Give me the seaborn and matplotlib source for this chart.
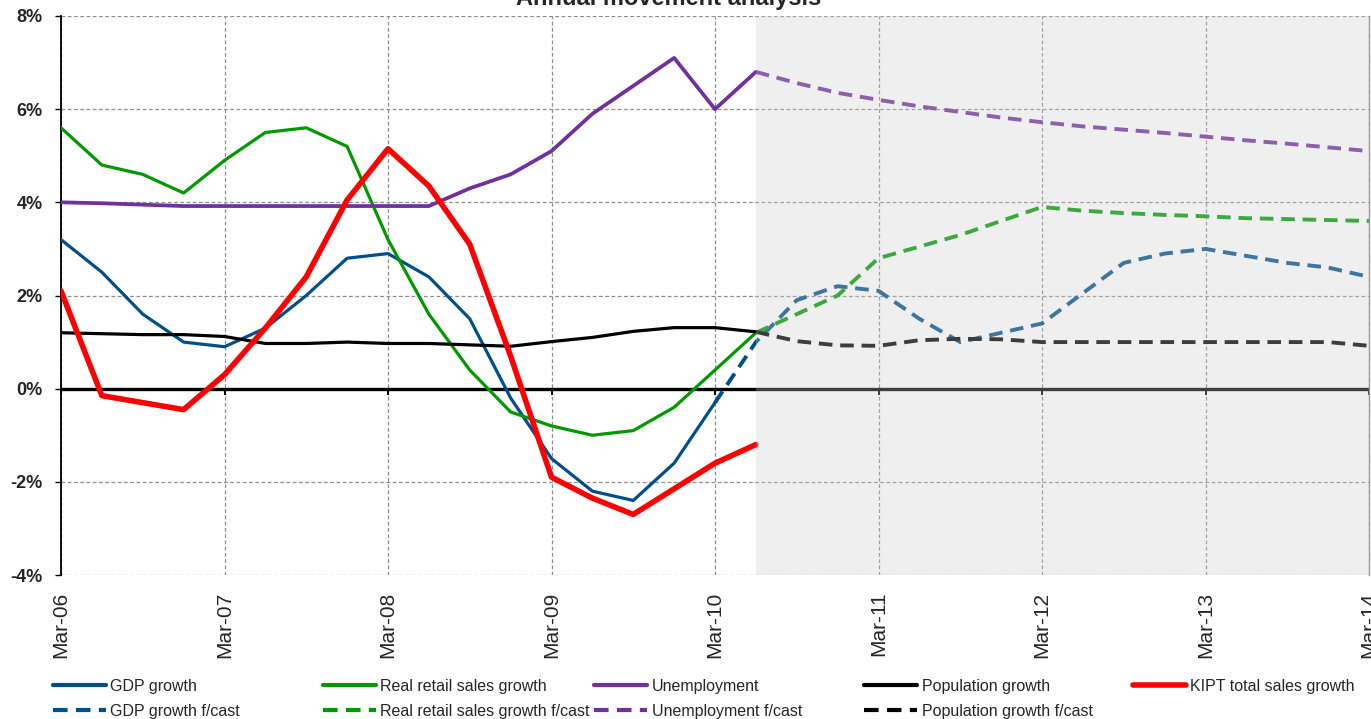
import numpy as np
import pandas as pd
import matplotlib
matplotlib.use("Agg")
import matplotlib.pyplot as plt
from matplotlib.lines import Line2D
import seaborn as sns

# Quarterly axis: Mar-06 (0) ... Mar-14 (32); forecasts start at Jun-10 (17)
year_labels = ["Mar-06", "Mar-07", "Mar-08", "Mar-09", "Mar-10",
               "Mar-11", "Mar-12", "Mar-13", "Mar-14"]
forecast_start = 17

# Annual growth rates, %
gdp = [3.2, 2.5, 1.6, 1.0, 0.9, 1.3, 2.0, 2.8, 2.9, 2.4, 1.5, -0.2,
       -1.5, -2.2, -2.4, -1.6, -0.3]
gdp_fc = [-0.3, 1.0, 1.9, 2.2, 2.1, 1.5, 1.0, 1.2, 1.4, 2.05, 2.7, 2.9,
          3.0, 2.85, 2.7, 2.6, 2.4]
retail = [5.6, 4.8, 4.6, 4.2, 4.9, 5.5, 5.6, 5.2, 3.2, 1.6, 0.4, -0.5,
          -0.8, -1.0, -0.9, -0.4, 0.4, 1.2]
retail_fc = [1.2, 1.6, 2.0, 2.8, 3.05, 3.3, 3.6, 3.9, 3.82, 3.77, 3.73,
             3.7, 3.66, 3.64, 3.62, 3.6]
unemp = [4.0, 3.98, 3.95, 3.92, 3.92, 3.92, 3.92, 3.92, 3.92, 3.92, 4.3,
         4.6, 5.1, 5.9, 6.5, 7.1, 6.0, 6.8]
unemp_fc = [6.8, 6.56, 6.35, 6.2, 6.06, 5.94, 5.82, 5.72, 5.63, 5.56, 5.49,
            5.41, 5.33, 5.26, 5.18, 5.1]
pop = [1.2, 1.18, 1.16, 1.16, 1.12, 0.97, 0.97, 1.0, 0.97, 0.97, 0.94,
       0.91, 1.01, 1.1, 1.23, 1.31, 1.31, 1.22]
pop_fc = [1.22, 1.02, 0.93, 0.92, 1.04, 1.07, 1.06, 1.0, 1.0, 1.0, 1.0,
          1.0, 1.0, 1.0, 1.0, 0.92]
kipt = [2.1, -0.15, -0.3, -0.45, 0.3, 1.3, 2.4, 4.05, 5.15, 4.35, 3.1,
        0.7, -1.9, -2.35, -2.7, -2.15, -1.6, -1.2]

C_GDP = "#004f8b"
C_RET = "#009900"
C_UNE = "#7030a0"
C_POP = "#000000"
C_KIP = "#ff0000"
DASH = (0, (3.5, 2.0))


def frame(values, start=0):
    return pd.DataFrame({"quarter": np.arange(start, start + len(values)),
                         "growth": values})


sns.set_theme(style="white")
plt.rcParams["font.family"] = ["Liberation Sans", "DejaVu Sans"]

W, H = 1371, 719
fig = plt.figure(figsize=(W / 100, H / 100), dpi=100)
ax = fig.add_axes([61 / W, 1 - 575 / H, (1369 - 61) / W, (575 - 16) / H])

# forecast series (same hue, dashed)
sns.lineplot(data=frame(gdp_fc, len(gdp) - 1), x="quarter", y="growth", ax=ax,
             color=C_GDP, lw=2.8, linestyle=DASH, zorder=3)
sns.lineplot(data=frame(retail_fc, forecast_start), x="quarter", y="growth", ax=ax,
             color=C_RET, lw=2.8, linestyle=DASH, zorder=3)
sns.lineplot(data=frame(unemp_fc, forecast_start), x="quarter", y="growth", ax=ax,
             color=C_UNE, lw=2.8, linestyle=DASH, zorder=3)
sns.lineplot(data=frame(pop_fc, forecast_start), x="quarter", y="growth", ax=ax,
             color=C_POP, lw=2.8, linestyle=DASH, zorder=3)

# actuals
sns.lineplot(data=frame(gdp), x="quarter", y="growth", ax=ax,
             color=C_GDP, lw=2.3, zorder=4)
sns.lineplot(data=frame(retail), x="quarter", y="growth", ax=ax,
             color=C_RET, lw=2.3, zorder=4)
sns.lineplot(data=frame(unemp), x="quarter", y="growth", ax=ax,
             color=C_UNE, lw=2.7, zorder=4)
sns.lineplot(data=frame(pop), x="quarter", y="growth", ax=ax,
             color=C_POP, lw=2.3, zorder=4)
sns.lineplot(data=frame(kipt), x="quarter", y="growth", ax=ax,
             color=C_KIP, lw=4.0, zorder=5, solid_capstyle="round")

# forecast period veil
ax.axvspan(forecast_start, 4 * (len(year_labels) - 1), facecolor="#cdcdcd",
           alpha=0.3, lw=0, zorder=10)

# axes, grid, ticks
year_pos = np.arange(0, 4 * len(year_labels), 4)
ax.set_xlim(0, 32)
ax.set_ylim(-4, 8)
ax.set_xlabel("")
ax.set_ylabel("")
ax.grid(True, color="#8f8f8f", linestyle=(0, (3, 2)), lw=0.9)
ax.set_axisbelow(True)
ax.axhline(0, color="black", lw=2.4, zorder=1)

ax.set_xticks(year_pos, year_labels, rotation=90, fontsize=15)
ax.tick_params(axis="x", length=0, pad=12)
yt = np.arange(-4, 9, 2)
ax.set_yticks(yt, [f"{v}%" for v in yt], fontsize=13, fontweight="bold")
ax.tick_params(axis="y", left=True, direction="out", length=4, width=1,
               color="black", pad=9)

for s in ("top", "bottom"):
    ax.spines[s].set_visible(False)
ax.spines["left"].set_color("black")
ax.spines["left"].set_linewidth(1.3)
ax.spines["right"].set_color("#9a9a9a")
ax.spines["right"].set_linewidth(1.0)

zero_axis = ax.secondary_xaxis(1 / 3)
zero_axis.set_xticks(year_pos)
zero_axis.tick_params(axis="x", direction="out", length=4, width=1.4,
                      color="black", labelbottom=False, labeltop=False)
for s in zero_axis.spines.values():
    s.set_visible(False)
zero_axis.set_zorder(1)

# title
fig.text(669 / W, 1 - 5 / H, "Annual movement analysis", ha="center",
         va="baseline", fontsize=17, fontweight="bold", color="#262626")

# legend: five columns
def handle(color, lw, dashed=False):
    return Line2D([], [], color=color, lw=lw,
                  linestyle=DASH if dashed else "-", solid_capstyle="round")

columns = [
    (53, [(handle(C_GDP, 3.0), "GDP growth"),
          (handle(C_GDP, 3.0, True), "GDP growth f/cast")]),
    (323, [(handle(C_RET, 3.0), "Real retail sales growth"),
           (handle(C_RET, 3.0, True), "Real retail sales growth f/cast")]),
    (594, [(handle(C_UNE, 3.0), "Unemployment"),
           (handle(C_UNE, 3.0, True), "Unemployment f/cast")]),
    (864, [(handle(C_POP, 3.0), "Population growth"),
           (handle(C_POP, 3.0, True), "Population growth f/cast")]),
    (1133, [(handle(C_KIP, 4.0), "KIPT total sales growth")]),
]
for x0, items in columns:
    fig.legend(handles=[h for h, _ in items], labels=[l for _, l in items],
               loc="upper left", bbox_to_anchor=(x0 / W, 1 - 679 / H),
               frameon=False, fontsize=11.5, handlelength=3.3,
               handletextpad=0.3, labelspacing=0.6, borderpad=0,
               borderaxespad=0)

fig.savefig("out.png", dpi=100)
